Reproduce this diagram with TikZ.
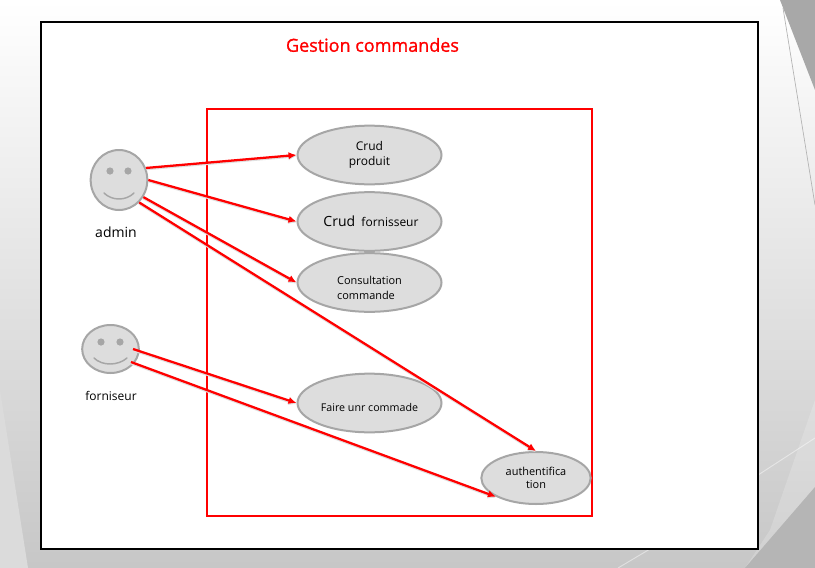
\documentclass[tikz,border=0pt]{standalone}
\usepackage{fontspec}
\setmainfont{Open Sans}
\newfontfamily\titlefont[FakeBold=1.2]{Open Sans}
\usetikzlibrary{shapes.geometric,arrows.meta}
\definecolor{ucfill}{HTML}{DDDDDD}
\definecolor{ucline}{HTML}{A6A6A6}
\tikzset{
  x=0.75pt,y=-0.75pt,
  usecase/.style={ellipse,draw=ucline,line width=1.5pt,fill=ucfill,inner sep=0pt,align=center,text=black},
  face/.style={usecase},
  feature/.style={draw=ucline,line width=1.1pt,line cap=round},
  eye/.style={circle,fill=ucline,draw=none,inner sep=0pt,minimum size=5.4pt},
  link/.style={draw=red,line width=1.7pt,-{Latex[length=6pt,width=5.5pt]},
    preaction={draw=black!12,line width=1.7pt,transform canvas={yshift=-0.9pt}}},
  plainlabel/.style={inner sep=0pt,text=black,align=center}
}
\begin{document}
\begin{tikzpicture}
\useasboundingbox (0,0) rectangle (815,568);
% slide background
\shade[top color=white,bottom color=black!22,shading angle=0] (0,0) rectangle (815,568);
\fill[black!14] (0,390) -- (28,568) -- (0,568) -- cycle;
\fill[white,opacity=.18] (815,400) -- (815,487) -- (745,568) -- (770,530) -- cycle;
\fill[black!34] (780,0) -- (815,0) -- (815,90) -- cycle;
\fill[black!29] (745,568) -- (815,487) -- (815,568) -- cycle;
\draw[black!30,line width=.5pt] (783,8) -- (815,205);
\draw[white,opacity=.45,line width=.7pt] (755,477) -- (815,438);
\draw[white,opacity=.45,line width=.7pt] (618,568) -- (650,549);
% frame
\draw[black,fill=white,line width=1.5pt] (41,22) rectangle (758,549);
\node[plainlabel,text=red,font=\titlefont\fontsize{13.5pt}{15pt}\selectfont] (title) at (372.5,45) {Gestion commandes};
% system box
\draw[red,line width=1.5pt] (207,109) rectangle (592,516);
% use cases
\node[usecase,minimum width=108pt,minimum height=44pt] (crud) at (369.5,155) {};
\node[plainlabel,font=\fontsize{9pt}{11.5pt}\selectfont] (crudT) at (369.5,155) {Crud\\produit};
\node[usecase,minimum width=108pt,minimum height=44pt] (four) at (369.5,221.5) {};
\node[plainlabel,font=\fontsize{9pt}{11pt}\selectfont] (fourT) at (371,221.5) {{\fontsize{10.5pt}{12pt}\selectfont Crud}\ \ fornisseur};
\node[usecase,minimum width=108pt,minimum height=44pt] (cons) at (369.5,282.5) {};
\node[plainlabel,align=left,font=\fontsize{8.2pt}{11.2pt}\selectfont] (consT) at (369.5,287.5) {Consultation\\commande};
\node[usecase,minimum width=108pt,minimum height=44pt] (faire) at (369.5,403) {};
\node[plainlabel,font=\fontsize{8pt}{10pt}\selectfont] (faireT) at (369.5,407) {Faire unr commade};
\node[usecase,minimum width=82pt,minimum height=39pt,font=\fontsize{8.2pt}{10pt}\selectfont] (auth) at (536,478) {authentifica\\tion};
% actors
\node[face,minimum width=42.5pt,minimum height=45pt] (admin) at (119,180) {};
\node[eye] (adminL) at (110,171) {};
\node[eye] (adminR) at (128,171) {};
\draw[feature] (104,193) .. controls (112,201) and (126,201) .. (134,193);
\node[plainlabel,font=\fontsize{10.5pt}{12pt}\selectfont] (adminT) at (116,232) {admin};
\node[face,minimum width=42.5pt,minimum height=36pt] (forn) at (110.5,349) {};
\node[eye] (fornL) at (101,342) {};
\node[eye] (fornR) at (120,342) {};
\draw[feature] (94,358) .. controls (102,366) and (118,366) .. (127,358);
\node[plainlabel,font=\fontsize{9pt}{11pt}\selectfont] (fornT) at (111,396) {forniseur};
% connectors
\coordinate (f1) at (133,349);
\coordinate (f2) at (131,362);
\draw[link] (admin.24) -- (crud.west);
\draw[link] (admin.0) -- (four.west);
\draw[link] (admin.-35) -- (cons.west);
\draw[link] (admin.-48) -- (auth.north);
\draw[link] (f1) -- (faire.west);
\draw[link] (f2) -- (auth.205);
\end{tikzpicture}
\end{document}
